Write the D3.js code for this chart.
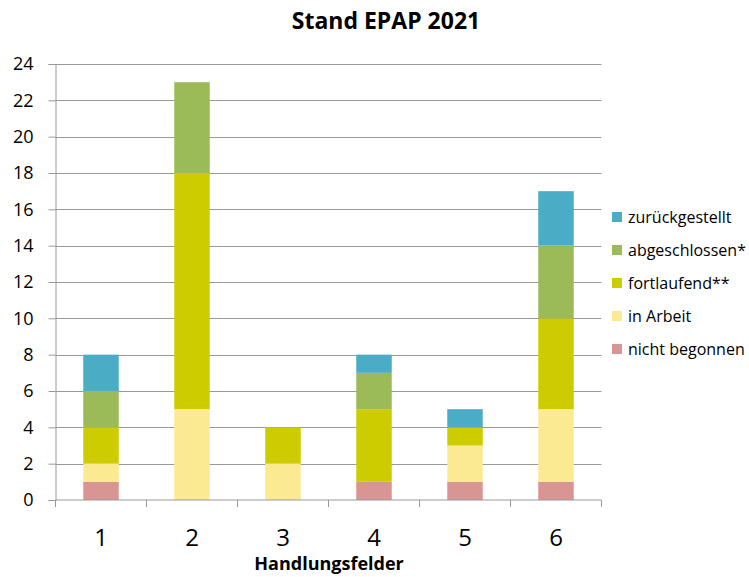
<!DOCTYPE html>
<html>
<head>
<meta charset="utf-8">
<script src="https://cdn.jsdelivr.net/npm/d3@7"></script>
<style>
  body { margin: 0; background: #fff; }
  text { font-family: "Open Sans", sans-serif; fill: #000; }
</style>
</head>
<body>
<svg id="chart" width="749" height="577"></svg>
<script>
// categories (Handlungsfelder)
var categories = ['1', '2', '3', '4', '5', '6'];

// series, stacked bottom to top
var seriesNames = ['nicht begonnen', 'in Arbeit', 'fortlaufend**', 'abgeschlossen*', 'zurückgestellt'];
var nichtBegonnen = [1, 0, 0, 1, 1, 1];
var inArbeit      = [1, 5, 2, 0, 2, 4];
var fortlaufend   = [2, 13, 2, 4, 1, 5];
var abgeschlossen = [2, 5, 0, 2, 0, 4];
var zurueck       = [2, 0, 0, 1, 1, 3];

var yTicks = [0, 2, 4, 6, 8, 10, 12, 14, 16, 18, 20, 22, 24];

var colors = ['#d99594', '#fcea93', '#cccc00', '#9bbb59', '#4bacc6'];

var svg = d3.select('#chart');
var margin = {left: 55.5, right: 147.5, top: 64, bottom: 77};
var width = 749 - margin.left - margin.right;
var height = 577 - margin.top - margin.bottom;

var rows = categories.map(function (c, i) {
  return {
    cat: c,
    'nicht begonnen': nichtBegonnen[i],
    'in Arbeit': inArbeit[i],
    'fortlaufend**': fortlaufend[i],
    'abgeschlossen*': abgeschlossen[i],
    'zurückgestellt': zurueck[i]
  };
});

var stack = d3.stack().keys(seriesNames)(rows);

var x = d3.scaleBand().domain(categories).range([0, width]).paddingInner(0.61).paddingOuter(0.305);
var xb = d3.scaleBand().domain(categories).range([0, width]);
var y = d3.scaleLinear().domain([0, 24]).range([height, 0]);
var color = d3.scaleOrdinal().domain(seriesNames).range(colors);

var g = svg.append('g').attr('transform', 'translate(' + margin.left + ',' + margin.top + ')');

// gridlines
g.selectAll('line.grid').data(yTicks.slice(1)).enter()
  .append('line')
  .attr('class', 'grid')
  .attr('x1', 0).attr('x2', width)
  .attr('y1', function (d) { return Math.round(y(d)) + 0.5; })
  .attr('y2', function (d) { return Math.round(y(d)) + 0.5; })
  .attr('stroke', '#999').attr('stroke-width', 1);

// bars
g.selectAll('g.layer').data(stack).enter()
  .append('g')
  .attr('class', 'layer')
  .attr('fill', function (d) { return color(d.key); })
  .selectAll('rect')
  .data(function (d) { return d; })
  .enter()
  .append('rect')
  .attr('x', function (d) { return x(d.data.cat); })
  .attr('width', x.bandwidth())
  .attr('y', function (d) { return y(d[1]); })
  .attr('height', function (d) { return y(d[0]) - y(d[1]); });

// y axis
var yAxis = g.append('g')
  .call(d3.axisLeft(y).tickValues(yTicks).tickSize(7).tickPadding(15).tickFormat(d3.format('d')));
yAxis.selectAll('path, line').attr('stroke', '#999');
yAxis.selectAll('text').style('font-size', '18px');

// x axis with boundary ticks
var xAxisG = g.append('g').attr('transform', 'translate(0,' + height + ')');
xAxisG.append('line').attr('x1', 0).attr('x2', width).attr('stroke', '#999');
xAxisG.selectAll('line.tick').data(categories.concat(['end'])).enter()
  .append('line')
  .attr('x1', function (d, i) { return i * xb.bandwidth(); })
  .attr('x2', function (d, i) { return i * xb.bandwidth(); })
  .attr('y1', 0).attr('y2', 7)
  .attr('stroke', '#999');
xAxisG.selectAll('text.cat').data(categories).enter()
  .append('text')
  .attr('x', function (d) { return xb(d) + xb.bandwidth() / 2; })
  .attr('y', 46)
  .attr('text-anchor', 'middle')
  .style('font-size', '24px')
  .text(function (d) { return d; });

// axis title
svg.append('text')
  .attr('x', 329)
  .attr('y', 570)
  .attr('text-anchor', 'middle')
  .style('font-size', '18px')
  .style('font-weight', 'bold')
  .text('Handlungsfelder');

// title
svg.append('text')
  .attr('x', 386)
  .attr('y', 29)
  .attr('text-anchor', 'middle')
  .style('font-size', '23px')
  .style('font-weight', 'bold')
  .text('Stand EPAP 2021');

// legend (top to bottom reversed)
var legendItems = seriesNames.slice().reverse();
var legend = svg.append('g').attr('transform', 'translate(612,212)');
var li = legend.selectAll('g').data(legendItems).enter()
  .append('g')
  .attr('transform', function (d, i) { return 'translate(0,' + i * 33 + ')'; });
li.append('rect').attr('width', 10).attr('height', 10).attr('fill', function (d) { return color(d); });
li.append('text').attr('x', 16).attr('y', 11).style('font-size', '16px').text(function (d) { return d; });
</script>
</body>
</html>
